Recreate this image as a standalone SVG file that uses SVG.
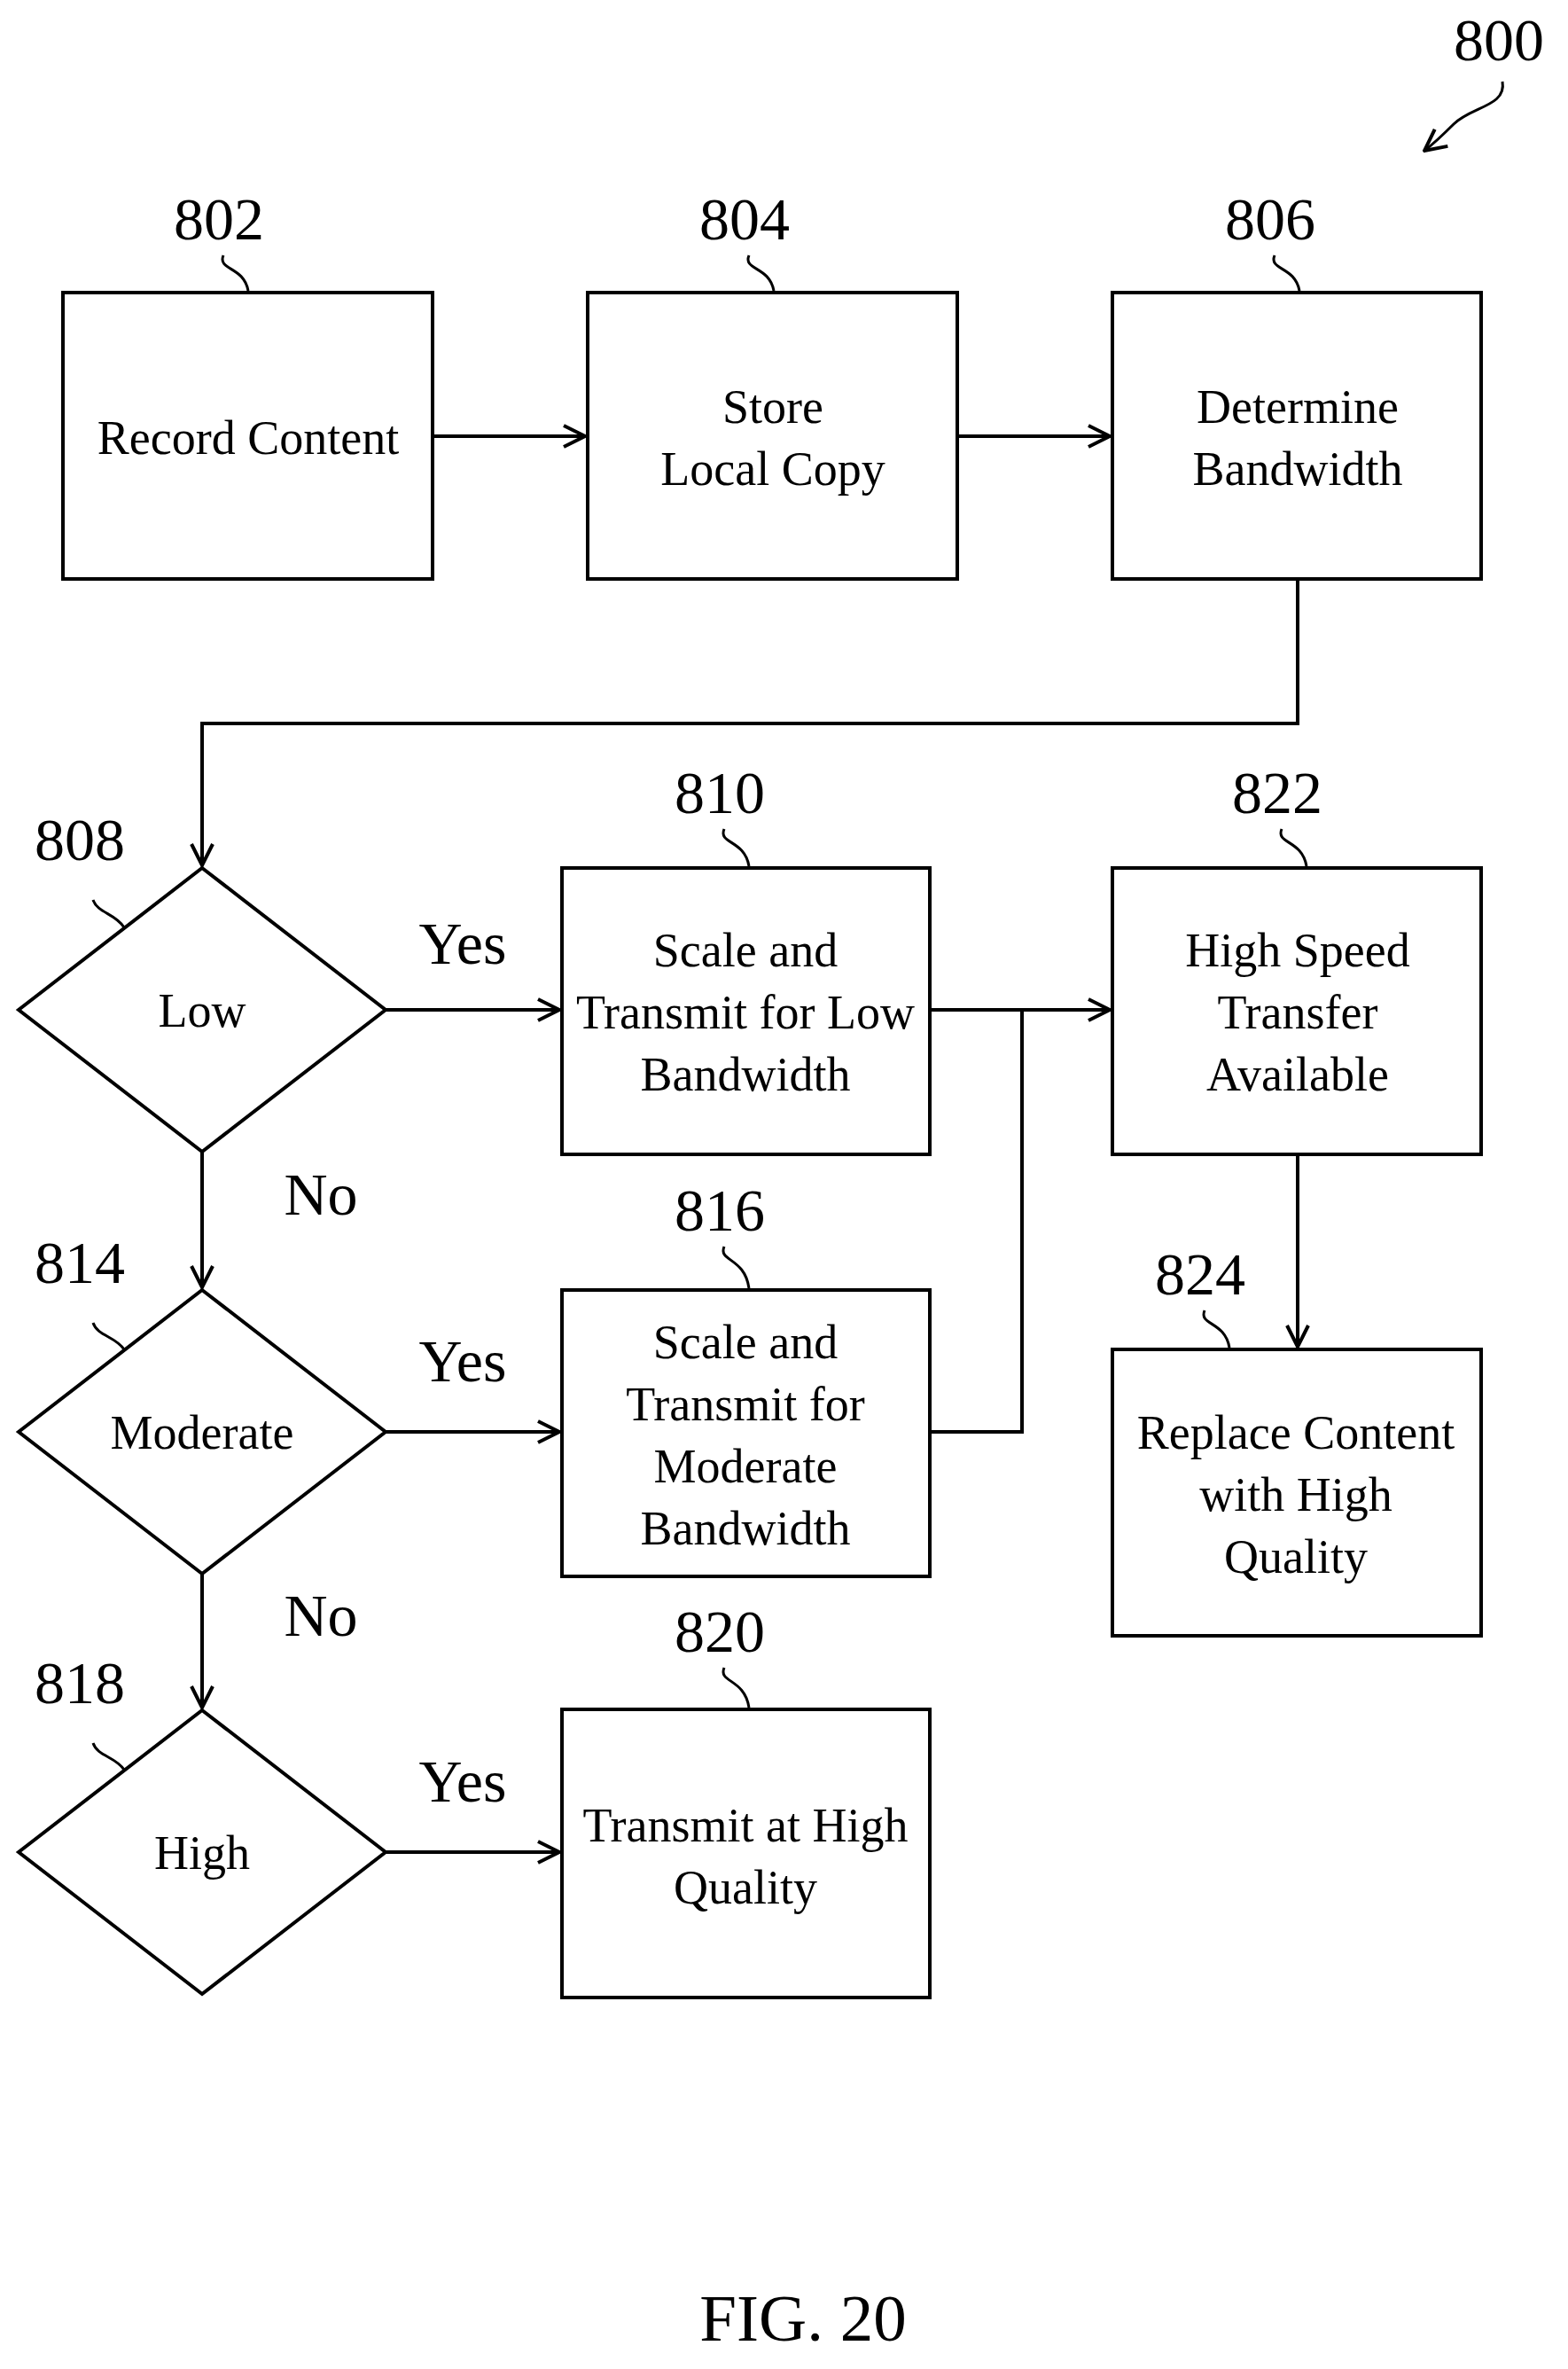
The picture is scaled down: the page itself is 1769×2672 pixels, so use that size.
<svg xmlns="http://www.w3.org/2000/svg" width="1769" height="2672" viewBox="0 0 1769 2672">
<style>
.b{fill:#fff;stroke:#000;stroke-width:4}
.t{font-family:"Liberation Serif",serif;font-size:54px;text-anchor:middle;fill:#000}
.n{font-family:"Liberation Serif",serif;font-size:68px;text-anchor:middle;fill:#000}
.l{fill:none;stroke:#000;stroke-width:4}
.s{fill:none;stroke:#000;stroke-width:3}
</style>
<defs><marker id="a" markerWidth="12" markerHeight="12" refX="11" refY="6" orient="auto" markerUnits="userSpaceOnUse" viewBox="0 0 12 12"><path d="M0,0 L12,6 L0,12" fill="none" stroke="#000" stroke-width="3"/></marker>
<marker id="a2" markerWidth="30" markerHeight="30" refX="28" refY="15" orient="auto" markerUnits="userSpaceOnUse"><path d="M4,3 L28,15 L4,27" fill="none" stroke="#000" stroke-width="4"/></marker></defs>
<rect width="1769" height="2672" fill="#fff"/>
<g id="connectors">
<path class="l" d="M488,492 H660" marker-end="url(#a2)"/>
<path class="l" d="M1080,492 H1252" marker-end="url(#a2)"/>
<path class="l" d="M1464,653 V816 H228 V976" marker-end="url(#a2)"/>
<path class="l" d="M435,1139 H631" marker-end="url(#a2)"/>
<path class="l" d="M1049,1139 H1252" marker-end="url(#a2)"/>
<path class="l" d="M1049,1615 H1153 V1139"/>
<path class="l" d="M228,1299 V1452" marker-end="url(#a2)"/>
<path class="l" d="M435,1615 H631" marker-end="url(#a2)"/>
<path class="l" d="M228,1775 V1926" marker-end="url(#a2)"/>
<path class="l" d="M435,2089 H631" marker-end="url(#a2)"/>
<path class="l" d="M1464,1302 V1519" marker-end="url(#a2)"/>
<path class="s" d="M1695,92 C1700,120 1660,120 1640,140 C1630,150 1620,160 1607,170" marker-end="url(#a2)"/>
</g>
<g id="n800"><text class="n" x="1691" y="68">800</text></g>
<g id="n802"><rect class="b" x="71" y="330" width="417" height="323"/><text class="n" x="247" y="270">802</text><path class="s" d="M252,288 C245,305 275,300 280,328"/><text class="t" x="280" y="512">Record Content</text></g>
<g id="n804"><rect class="b" x="663" y="330" width="417" height="323"/><text class="n" x="840" y="270">804</text><path class="s" d="M845,288 C838,305 868,300 873,328"/><text class="t" x="872" y="477">Store</text><text class="t" x="872" y="547">Local Copy</text></g>
<g id="n806"><rect class="b" x="1255" y="330" width="416" height="323"/><text class="n" x="1433" y="270">806</text><path class="s" d="M1438,288 C1431,305 1461,300 1466,328"/><text class="t" x="1464" y="477">Determine</text><text class="t" x="1464" y="547">Bandwidth</text></g>
<g id="n808"><polygon class="b" points="228,979 435,1139 228,1299 21,1139"/><text class="n" x="90" y="970">808</text><path class="s" d="M105,1015 C110,1030 130,1030 140,1046"/><text class="t" x="228" y="1158">Low</text></g>
<g id="n810"><rect class="b" x="634" y="979" width="415" height="323"/><text class="n" x="812" y="917">810</text><path class="s" d="M817,935 C810,952 840,947 845,977"/><text class="t" x="841" y="1090">Scale and</text><text class="t" x="841" y="1160">Transmit for Low</text><text class="t" x="841" y="1230">Bandwidth</text></g>
<g id="n822"><rect class="b" x="1255" y="979" width="416" height="323"/><text class="n" x="1441" y="917">822</text><path class="s" d="M1446,935 C1439,952 1469,947 1474,977"/><text class="t" x="1464" y="1090">High Speed</text><text class="t" x="1464" y="1160">Transfer</text><text class="t" x="1464" y="1230">Available</text></g>
<g id="n814"><polygon class="b" points="228,1455 435,1615 228,1775 21,1615"/><text class="n" x="90" y="1447">814</text><path class="s" d="M105,1492 C110,1507 130,1507 140,1522"/><text class="t" x="228" y="1634">Moderate</text></g>
<g id="n816"><rect class="b" x="634" y="1455" width="415" height="323"/><text class="n" x="812" y="1388">816</text><path class="s" d="M817,1406 C810,1423 840,1418 845,1453"/><text class="t" x="841" y="1532">Scale and</text><text class="t" x="841" y="1602">Transmit for</text><text class="t" x="841" y="1672">Moderate</text><text class="t" x="841" y="1742">Bandwidth</text></g>
<g id="n824"><rect class="b" x="1255" y="1522" width="416" height="323"/><text class="n" x="1354" y="1460">824</text><path class="s" d="M1359,1478 C1352,1495 1382,1490 1387,1520"/><text class="t" x="1462" y="1634">Replace Content</text><text class="t" x="1462" y="1704">with High</text><text class="t" x="1462" y="1774">Quality</text></g>
<g id="n818"><polygon class="b" points="228,1929 435,2089 228,2249 21,2089"/><text class="n" x="90" y="1921">818</text><path class="s" d="M105,1966 C110,1981 130,1981 140,1996"/><text class="t" x="228" y="2108">High</text></g>
<g id="n820"><rect class="b" x="634" y="1928" width="415" height="325"/><text class="n" x="812" y="1863">820</text><path class="s" d="M817,1881 C810,1898 840,1893 845,1926"/><text class="t" x="841" y="2077">Transmit at High</text><text class="t" x="841" y="2147">Quality</text></g>
<g id="labels">
<text class="n" x="522" y="1087">Yes</text><text class="n" x="522" y="1558">Yes</text><text class="n" x="522" y="2032">Yes</text>
<text class="n" x="362" y="1370">No</text><text class="n" x="362" y="1845">No</text>
<text class="n" x="906" y="2640" style="font-size:75px">FIG. 20</text>
</g>
</svg>
